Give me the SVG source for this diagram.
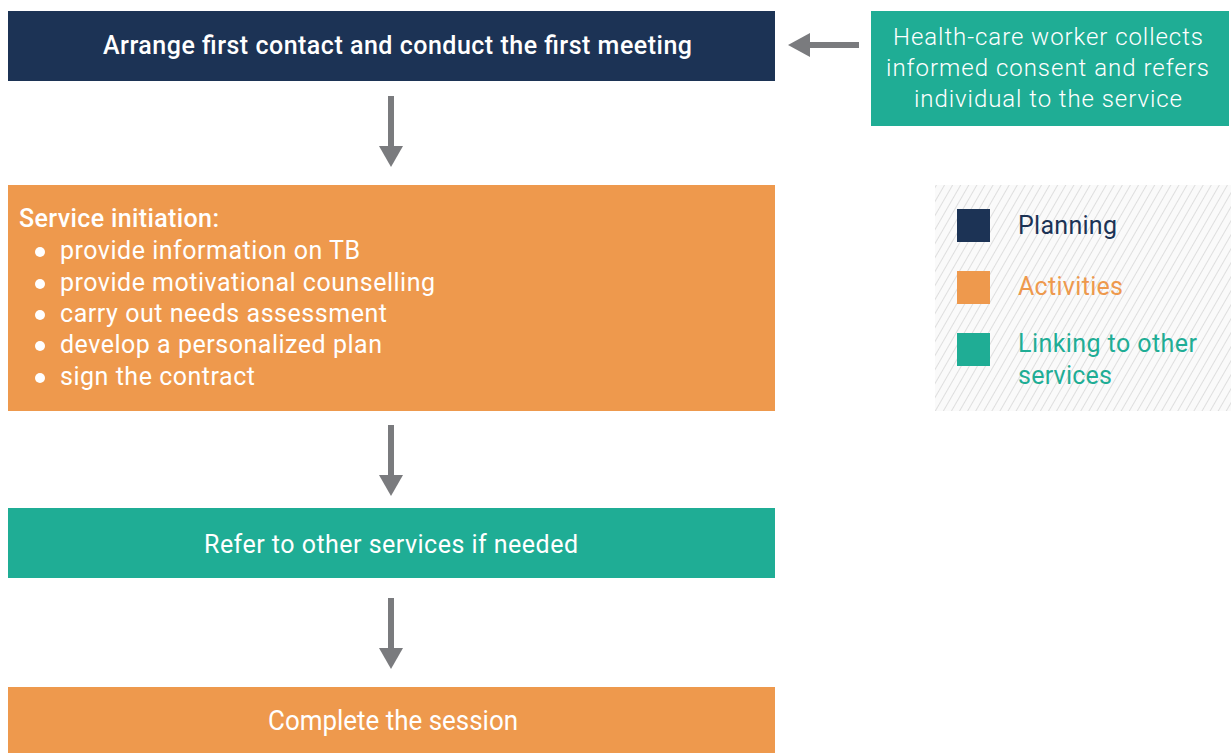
<svg xmlns="http://www.w3.org/2000/svg" width="1231" height="753" viewBox="0 0 1231 753">
<defs>
<pattern id="hatch" patternUnits="userSpaceOnUse" width="7" height="7" patternTransform="rotate(30)">
<rect width="7" height="7" fill="#fafafa"/>
<line x1="0" y1="0" x2="0" y2="7" stroke="#dedede" stroke-width="2"/>
</pattern>
<polygon id="ahDown" points="-12,0 12,0 0,21"/>
</defs>
<style>
.t{font-family:Roboto,"Liberation Sans",sans-serif;fill:#fff;font-size:25px}
.m{font-weight:500}
.l{font-weight:300}
.navy{fill:#1c3355}
.orange{fill:#ee994d}
.teal{fill:#1fad95}
.arrow{fill:#7a7b7e}
.lg{font-family:Roboto,"Liberation Sans",sans-serif;font-size:25px}
</style>
<rect width="1231" height="753" fill="#fff"/>

<g id="legend">
<rect x="935" y="185" width="296" height="226" fill="url(#hatch)"/>
<rect x="957" y="209" width="33" height="33" class="navy"/>
<rect x="957" y="271" width="33" height="33" class="orange"/>
<rect x="957" y="333" width="33" height="33" class="teal"/>
<text x="1018" y="234" class="lg" fill="#1c3355" textLength="99" lengthAdjust="spacing">Planning</text>
<text x="1018" y="295" class="lg" fill="#ee994d" textLength="105" lengthAdjust="spacing">Activities</text>
<text x="1018" y="352" class="lg" fill="#1fad95" textLength="179" lengthAdjust="spacing">Linking to other</text>
<text x="1018" y="384" class="lg" fill="#1fad95" textLength="94" lengthAdjust="spacing">services</text>
</g>

<g id="connectors">
<g class="arrow">
<rect x="388" y="96" width="6" height="52"/>
<use href="#ahDown" x="391" y="146"/>
<rect x="388" y="425" width="6" height="52"/>
<use href="#ahDown" x="391" y="475"/>
<rect x="388" y="598" width="6" height="52"/>
<use href="#ahDown" x="391" y="648"/>
<rect x="808" y="42" width="51" height="6"/>
<polygon points="810,33 810,57 788,45"/>
</g>
</g>

<g id="node-arrange">
<rect x="8" y="11" width="767" height="70" class="navy"/>
<text x="103" y="54" class="t m" textLength="589" lengthAdjust="spacing">Arrange first contact and conduct the first meeting</text>
</g>

<g id="node-healthcare">
<rect x="871" y="11" width="358" height="115" class="teal"/>
<text x="893" y="45" class="t l" style="font-size:24px" textLength="310" lengthAdjust="spacing">Health-care worker collects</text>
<text x="886" y="76" class="t l" style="font-size:24px" textLength="323" lengthAdjust="spacing">informed consent and refers</text>
<text x="914" y="107" class="t l" style="font-size:24px" textLength="268" lengthAdjust="spacing">individual to the service</text>
</g>

<g id="node-initiation">
<rect x="8" y="185" width="767" height="226" class="orange"/>
<text x="19" y="227" class="t m" textLength="200" lengthAdjust="spacing">Service initiation:</text>
<g fill="#fff">
<circle cx="40" cy="252" r="5"/>
<circle cx="40" cy="284" r="5"/>
<circle cx="40" cy="315" r="5"/>
<circle cx="40" cy="346" r="5"/>
<circle cx="40" cy="378" r="5"/>
</g>
<text x="60" y="259" class="t" textLength="300" lengthAdjust="spacing">provide information on TB</text>
<text x="60" y="291" class="t" textLength="375" lengthAdjust="spacing">provide motivational counselling</text>
<text x="60" y="322" class="t" textLength="327" lengthAdjust="spacing">carry out needs assessment</text>
<text x="60" y="353" class="t" textLength="322" lengthAdjust="spacing">develop a personalized plan</text>
<text x="60" y="385" class="t" textLength="195" lengthAdjust="spacing">sign the contract</text>
</g>

<g id="node-refer">
<rect x="8" y="508" width="767" height="70" class="teal"/>
<text x="204" y="553" class="t" textLength="374" lengthAdjust="spacing">Refer to other services if needed</text>
</g>

<g id="node-complete">
<rect x="8" y="687" width="767" height="66" class="orange"/>
<text x="268" y="730" class="t" style="font-size:27px" textLength="250" lengthAdjust="spacingAndGlyphs">Complete the session</text>
</g>
</svg>
